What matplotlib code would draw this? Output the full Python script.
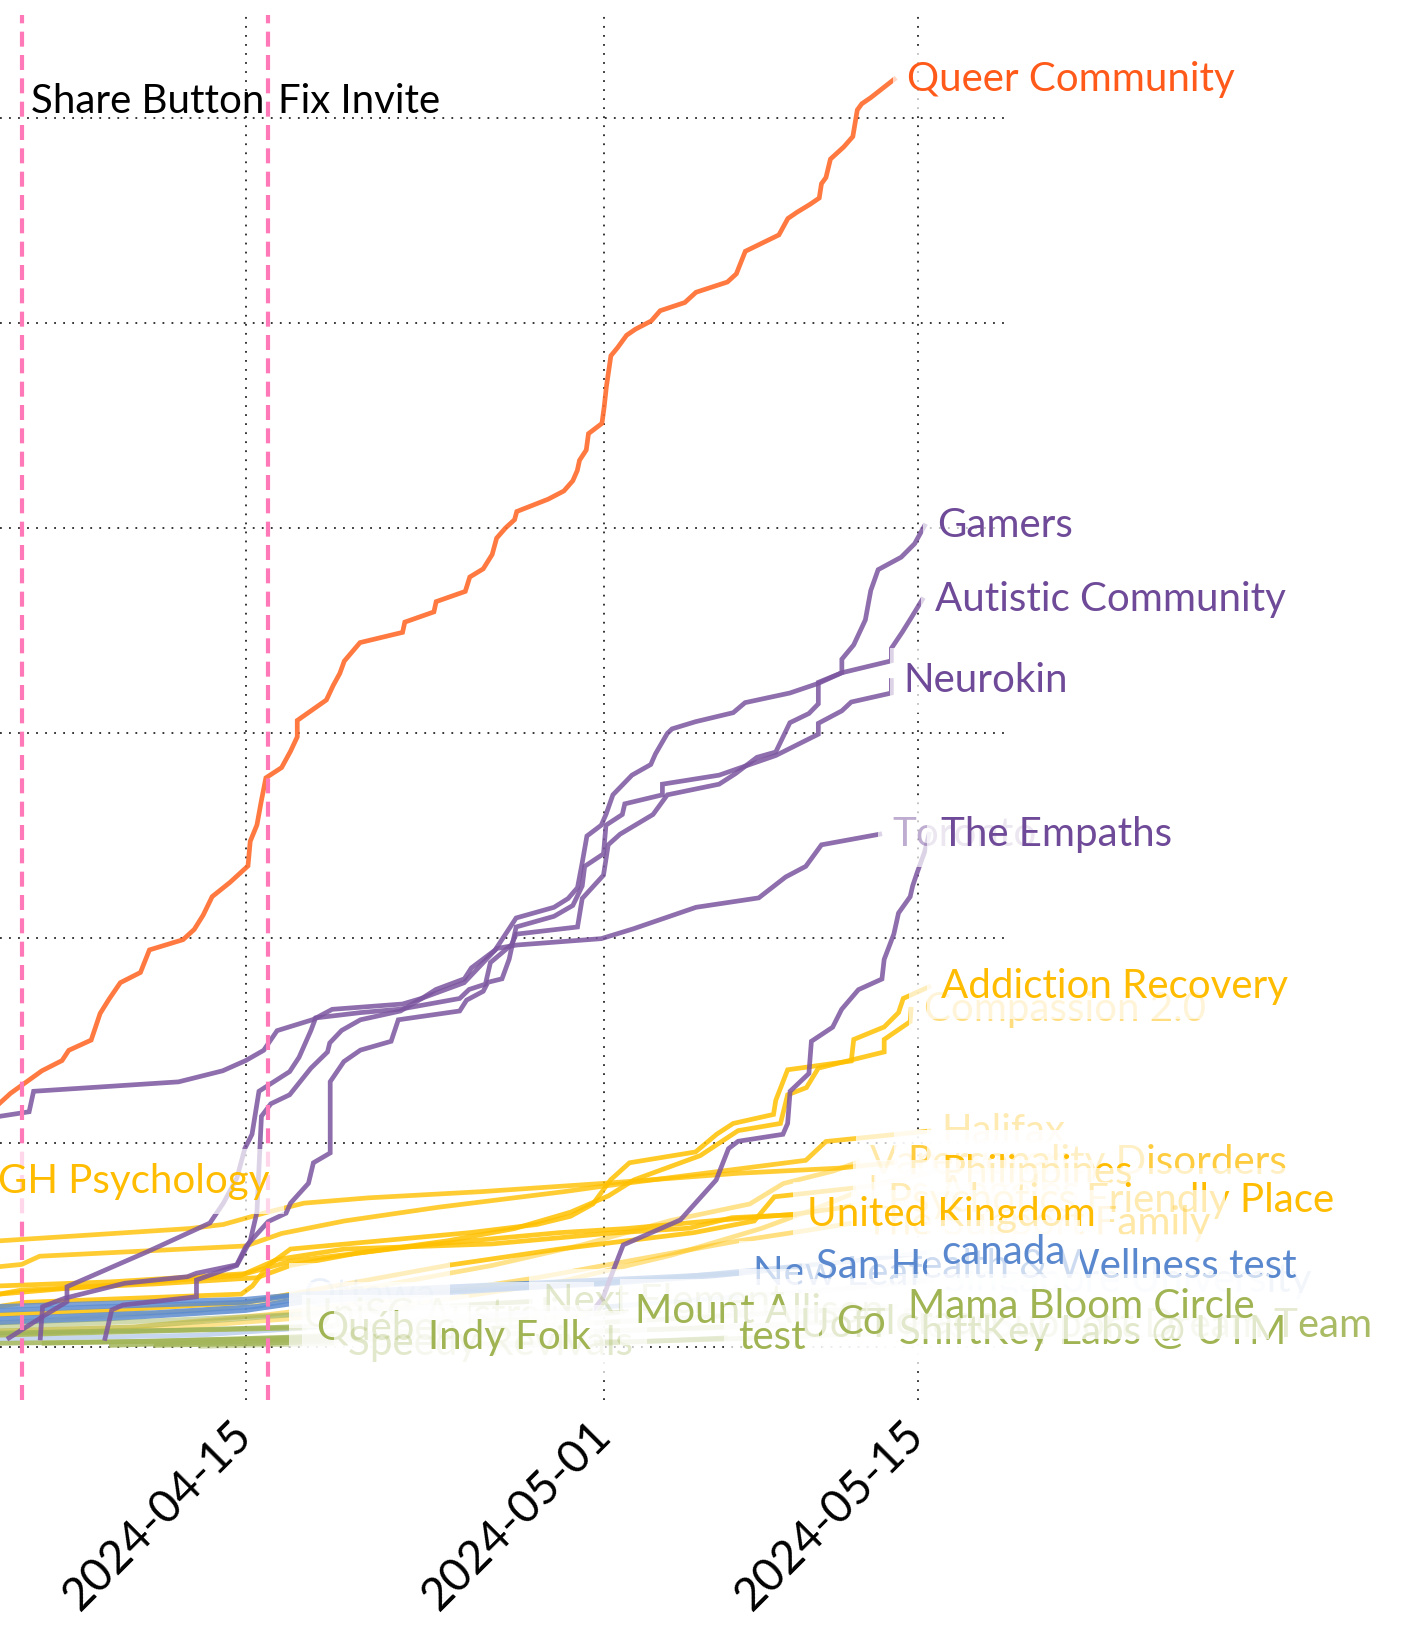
import pandas as pd
import matplotlib.pyplot as plt

plt.rcParams['font.family'] = ['Lato', 'DejaVu Sans']

START = pd.Timestamp("2024-04-01")

# points are (days since 2024-04-01, cumulative members)
queer_community = [(3.0, 119), (3.5, 124), (4.9, 135), (5.8, 140), (6.1, 145), (7.1, 150), (7.5, 163),
                   (7.9, 170), (8.4, 178), (9.3, 183), (9.7, 194), (11.2, 199), (11.7, 204), (12.1, 211),
                   (12.5, 220), (13.3, 227), (14.1, 235), (14.2, 247), (14.5, 255), (14.7, 267), (14.9, 278),
                   (15.6, 283), (16.0, 291), (16.3, 298), (16.3, 306), (17.6, 316), (17.9, 323), (18.2, 329),
                   (18.4, 335), (19.1, 344), (21.0, 349), (21.1, 354), (22.4, 359), (22.5, 364), (23.8, 369),
                   (24.0, 376), (24.6, 380), (25.0, 387), (25.2, 395), (25.6, 400), (26.0, 404), (26.1, 408),
                   (27.5, 414), (28.2, 418), (28.6, 423), (28.8, 428), (28.9, 433), (29.2, 438), (29.3, 446),
                   (29.9, 451), (30.0, 459), (30.1, 469), (30.3, 484), (30.6, 488), (31.0, 494), (31.4, 497),
                   (32.1, 501), (32.5, 506), (33.6, 510), (34.1, 515), (35.5, 520), (35.9, 524), (36.3, 535),
                   (37.8, 543), (38.2, 551), (38.6, 554), (39.2, 558), (39.6, 561), (39.7, 568), (39.9, 571),
                   (40.1, 580), (40.7, 586), (41.1, 591), (41.3, 604), (41.5, 607), (41.9, 610), (42.95, 619)]

gamers = [(3.43, 4.6), (4.93, 15), (6.02, 22.3), (6.02, 29.6), (8.41, 41), (9.61, 46.7), (12.4, 60.7),
          (13.0, 70.4), (13.6, 82.5), (13.96, 97.1), (14.28, 104), (14.59, 125), (15.96, 134.6),
          (16.38, 141.6), (16.91, 154.7), (17.12, 160.8), (19.12, 163.4), (20.91, 165.1), (23.55, 170.3),
          (23.97, 174.7), (24.7, 177.3), (24.92, 187.8), (25.86, 196.5), (26.07, 201.7), (28.81, 205.2),
          (29.02, 219.1), (29.97, 230.5), (30.18, 245.3), (30.71, 250.5), (32.18, 260.1), (32.82, 269.7),
          (35.13, 274.9), (35.87, 280.1), (36.82, 288), (37.66, 290.6), (38.29, 304.9), (39.14, 309.4),
          (39.56, 314.1), (39.56, 324.6), (40.61, 329.3), (40.61, 335.9), (41.14, 342.9), (41.66, 355.1),
          (41.9, 369.4), (42.23, 379.6), (43.26, 385.7), (43.86, 392.3), (44.3, 401)]

autistic_community = [(7.72, 4.4), (8.02, 18.3), (8.52, 20.7), (11.8, 24.7), (11.8, 32.9), (13.6, 40),
                      (14.2, 52), (14.5, 66), (14.6, 90), (14.7, 112.8), (15.12, 118.9), (15.96, 123.3),
                      (16.91, 136.3), (17.65, 144.2), (17.75, 148.6), (18.28, 154.7), (19.12, 159.9),
                      (20.91, 164.2), (21.86, 170.3), (22.49, 174.7), (23.76, 179.9), (24.07, 185.2),
                      (25.13, 193.9), (26.07, 209.6), (27.76, 214.8), (28.39, 219.1), (28.81, 224.4),
                      (29.02, 236.6), (29.23, 249.6), (29.87, 254.9), (30.08, 260.1), (30.39, 269.7),
                      (31.24, 279.3), (32.08, 284.5), (32.29, 289.7), (32.82, 299.7), (33.03, 301.9),
                      (34.08, 305.4), (35.76, 309.8), (36.29, 314.7), (38.29, 319.4), (39.56, 324.1),
                      (40.61, 329.3), (42.82, 335.1), (42.82, 341.2), (43.3, 349), (43.7, 356), (44.2, 365)]

neurokin = [(4.83, 4.6), (4.93, 19.9), (5.92, 24), (8.6, 31.3), (11.4, 34.5), (11.8, 36.2), (13.6, 40.3),
            (14.0, 49.2), (15.0, 61.4), (15.8, 65.5), (16.0, 70.4), (16.8, 80.1), (17.02, 90.1),
            (17.77, 94.9), (17.77, 129.7), (18.38, 139.5), (19.12, 145.1), (20.49, 149.4), (20.81, 159.9),
            (23.55, 164.2), (23.86, 169.5), (24.6, 173.8), (24.81, 178.2), (25.44, 179.9), (25.76, 189.5),
            (26.07, 205.2), (27.76, 210.4), (28.6, 215.7), (29.02, 225.2), (29.13, 234.8), (29.97, 240.9),
            (30.08, 254.9), (30.81, 260.1), (30.92, 265.3), (32.6, 269.7), (32.6, 274.9), (35.13, 279.3),
            (37.66, 288.9), (39.56, 299.3), (39.56, 304.6), (40.61, 310.7), (41.03, 315), (42.82, 319.4),
            (42.82, 325.5)]

toronto = [(3.03, 112.8), (4.33, 115), (4.53, 125), (11.0, 129.6), (12.97, 135), (14.0, 140), (14.8, 145),
           (15.4, 154.6), (17.0, 160), (17.86, 165), (21.0, 167.6), (21.86, 170.4), (23.75, 178),
           (25.2, 194.7), (26.1, 196.4), (29.87, 199.5), (31.3, 204.3), (34.1, 214.8), (36.9, 219.4),
           (38.1, 229.6), (39.0, 234.8), (39.7, 245.3), (42.3, 250.5)]

the_empaths = [(29.2, 13.8), (29.96, 24.5), (30.27, 33.7), (30.85, 50), (33.4, 62.2), (35.0, 81.7),
               (35.55, 97), (35.98, 100.6), (37.98, 104), (38.19, 109.3), (38.3, 125), (39.14, 133.7),
               (39.25, 149.4), (40.2, 156.3), (40.6, 165), (41.35, 174.6), (42.4, 179.8), (42.5, 189.4),
               (42.93, 201.7), (43.14, 212), (43.66, 220), (43.77, 225.2), (43.98, 232), (44.3, 241.7),
               (44.5, 250.5)]

addiction_recovery = [(3.0, 20), (4.2, 22), (9.0, 24), (13.8, 26), (14.3, 30), (15.0, 40), (16.0, 48),
                      (20.0, 52), (24.0, 56), (27.0, 60), (28.5, 64), (29.5, 70), (30.29, 81.8),
                      (31.13, 90.1), (34.08, 95.4), (35.03, 104.1), (35.76, 109.3), (37.56, 113.7),
                      (37.66, 120.6), (38.19, 135.5), (41.03, 139.8), (41.14, 150.3), (42.5, 156.4),
                      (43.14, 163.4), (43.35, 170.3), (44.5, 176)]
compassion_2 = [(3.0, 26), (4.0, 28), (10.0, 31), (14.5, 34), (16.0, 40), (19.0, 46), (23.0, 52),
                (26.0, 58), (28.5, 66), (30.2, 74), (31.34, 81.8), (34.29, 93.6), (35.98, 105.8),
                (37.87, 109.3), (38.19, 123.3), (39.03, 126.8), (39.56, 136.3), (42.5, 144.2),
                (42.5, 150.3), (43.66, 159), (43.7, 165)]
halifax = [(3.0, 39.4), (4.0, 40.5), (4.8, 44.5), (14.0, 49.5), (15.6, 55.6), (18.4, 61.7), (22.6, 68.4),
           (28.2, 76), (29.9, 78.6), (39.0, 91.3), (39.9, 100.5), (44.5, 105.6)]
vancouver = [(3.0, 12), (6.0, 14), (12.0, 18), (16.0, 24), (20.0, 30), (25.0, 40), (29.0, 50), (33.0, 62),
             (36.5, 70), (38.0, 80), (40.2, 86), (41.3, 90.3)]
personality_disorders = [(3.0, 52), (11.5, 58), (13.0, 60), (14.9, 65.8), (16.6, 70.4), (19.5, 73),
                         (24.5, 76), (29.9, 80), (36.0, 85), (40.5, 87.5), (43.0, 90.3)]
philippines = [(3.0, 16), (8.0, 18), (14.0, 22), (18.0, 30), (23.0, 40), (28.0, 48), (31.0, 52),
               (34.0, 56), (36.7, 61.7), (37.6, 73.5), (41.8, 78.6), (44.5, 85.2)]
los_angeles = [(3.0, 6), (10.0, 9), (16.0, 14), (22.0, 22), (28.0, 32), (33.0, 45), (37.0, 58),
               (39.5, 68), (41.2, 75.5)]
friendly_place = [(3.0, 30), (8.0, 32), (14.0, 36), (16.0, 42), (22.0, 50), (28.0, 56), (31.0, 58),
                  (35.0, 62), (38.5, 65), (40.5, 68), (42.1, 71.5)]
united_kingdom = [(3.0, 26), (5.8, 28.6), (13.8, 35.2), (15.4, 42.9), (18.4, 48), (25.0, 50.5),
                  (30.1, 55.6), (33.8, 58.2), (35.7, 63.3), (38.5, 64.8)]
support_family = [(3.0, 8), (9.0, 10), (15.0, 16), (21.0, 24), (27.0, 34), (32.0, 44), (36.0, 52),
                  (39.0, 57), (41.1, 60.7)]
gh_psychology = [(-1.0, 70), (1.0, 76), (2.4, 81)]

canada = [(3.0, 12), (8.0, 14), (14.0, 18), (16.5, 22), (22.0, 26), (28.0, 30), (33.0, 34), (37.0, 38),
          (41.0, 42), (44.5, 46.4)]
san_health = [(3.0, 14), (10.0, 17), (14.5, 20), (16.5, 24), (24.0, 28), (30.0, 31), (35.0, 35), (38.9, 39.3)]
new_leaf = [(3.0, 18), (8.0, 20), (14.0, 22), (16.5, 26), (22.0, 29), (28.0, 32), (32.0, 34), (36.1, 36.2)]
singapore_university = [(3.0, 4), (12.0, 6), (20.0, 12), (28.0, 18), (35.0, 24), (40.0, 28), (44.6, 32.7)]
ottawa = [(3.0, 20), (9.0, 22), (14.0, 23.5), (16.0, 25.5)]

mama_bloom_circle = [(3.0, 2), (10.0, 3), (16.0, 5), (22.0, 8), (28.0, 11), (33.0, 14), (38.0, 17), (43.0, 19.9)]
shiftkey_labs = [(20.0, 1), (26.0, 2), (32.0, 3), (38.0, 5), (42.6, 7.1)]
colorado = [(8.0, 1), (14.0, 3), (20.0, 5), (27.0, 7), (33.0, 9), (39.8, 12.2)]
uoft_team = [(5.0, 2), (14.0, 4), (22.0, 6), (30.0, 8), (38.2, 10.7)]
test = [(25.0, 1), (30.0, 2), (35.4, 4.6)]
mount_allison = [(3.0, 6), (10.0, 8), (16.0, 10), (22.0, 12), (27.0, 14), (30.8, 17.3)]
next_element = [(3.0, 10), (10.0, 13), (16.0, 16), (21.0, 19), (26.7, 22.4)]
quebec = [(3.0, 7), (8.0, 8), (12.0, 8.5), (16.6, 9.5)]
indy_folk = [(10.0, 1), (15.0, 2), (21.6, 4.6)]
unisc_australia = [(3.0, 8), (9.0, 10), (16.0, 15.8)]
speedy_revivals = [(12.0, 0.5), (18.0, 2)]

events = ["2024-04-05", "2024-04-16"]
event_labels = ["Share Button", "Fix Invite"]

xtick_dates = ["2024-04-15", "2024-05-01", "2024-05-15"]
ygrid = [0, 100, 200, 300, 400, 500, 600]

ORANGE, PURPLE, YELLOW, BLUE, GREEN = "#FF6B2B", "#7B559F", "#FFC000", "#5C8CD0", "#A3B65A"
TXT = {ORANGE: "#FF5A1A", PURPLE: "#6F4A98", YELLOW: "#FFBC00", BLUE: "#5A88CE", GREEN: "#A0B453"}

# label, points, colour, text alpha, line alpha (list order = stacking order of labels)
series = [
    ("GH Psychology", gh_psychology, YELLOW, 1.0, 0.85),
    ("Halifax", halifax, YELLOW, 0.3, 0.8),
    ("Vancouver", vancouver, YELLOW, 0.35, 0.45),
    ("Personality Disorders", personality_disorders, YELLOW, 0.75, 0.8),
    ("Philippines", philippines, YELLOW, 1.0, 0.85),
    ("Los Angeles", los_angeles, YELLOW, 0.35, 0.45),
    ("Psychotics Friendly Place", friendly_place, YELLOW, 1.0, 0.85),
    ("The Support Family", support_family, YELLOW, 0.35, 0.5),
    ("United Kingdom", united_kingdom, YELLOW, 1.0, 0.85),
    ("Compassion 2.0", compassion_2, YELLOW, 0.5, 0.85),
    ("Addiction Recovery", addiction_recovery, YELLOW, 1.0, 0.85),
    ("Ottawa", ottawa, BLUE, 0.12, 0.8),
    ("Singapore University", singapore_university, BLUE, 0.25, 0.35),
    ("New Leaf", new_leaf, BLUE, 1.0, 0.85),
    ("San Health & Wellness test", san_health, BLUE, 1.0, 0.85),
    ("canada", canada, BLUE, 1.0, 0.85),
    ("UniSC Australia", unisc_australia, GREEN, 0.25, 0.5),
    ("Next Element", next_element, GREEN, 0.3, 0.5),
    ("Québec", quebec, GREEN, 1.0, 0.85),
    ("Speedy Revivals", speedy_revivals, GREEN, 0.3, 0.5),
    ("Indy Folk", indy_folk, GREEN, 1.0, 0.85),
    ("Mount Allison", mount_allison, GREEN, 1.0, 0.85),
    ("UofT Peer Support Dream Team", uoft_team, GREEN, 0.9, 0.85),
    ("test", test, GREEN, 1.0, 0.85),
    ("Colorado", colorado, GREEN, 1.0, 0.85),
    ("ShiftKey Labs @ UTM", shiftkey_labs, GREEN, 1.0, 0.85),
    ("Mama Bloom Circle", mama_bloom_circle, GREEN, 1.0, 0.85),
    ("Toronto", toronto, PURPLE, 0.45, 0.85),
    ("The Empaths", the_empaths, PURPLE, 1.0, 0.85),
    ("Neurokin", neurokin, PURPLE, 1.0, 0.85),
    ("Autistic Community", autistic_community, PURPLE, 1.0, 0.85),
    ("Gamers", gamers, PURPLE, 1.0, 0.85),
    ("Queer Community", queer_community, ORANGE, 1.0, 0.9),
]


def to_dates(days):
    return START + pd.to_timedelta(days, unit="D")


fig = plt.figure(figsize=(14.05, 16.39), dpi=100)
ax = fig.add_axes([0.0, 0.1458, 0.7143, 0.845])

for spine in ax.spines.values():
    spine.set_visible(False)

for i, (name, pts, col, a, la) in enumerate(series):
    d = to_dates([p[0] for p in pts])
    v = [p[1] for p in pts]
    ax.plot(d, v, color=col, lw=3.4, alpha=la, zorder=2, solid_joinstyle="miter")
    ax.annotate(name, (d[-1], v[-1]), xytext=(9, 0), textcoords="offset points",
                va="center", ha="left", fontsize=29, color=TXT[col], alpha=a,
                annotation_clip=False, zorder=10 + i,
                bbox=dict(boxstyle="square,pad=0.35", fc="white", ec="none", alpha=0.7))

for ev, lab in zip(events, event_labels):
    ax.axvline(pd.Timestamp(ev), color="#FF79B9", lw=3.0, ls=(0, (3.6, 2.0)), zorder=3)
    ax.annotate(lab, (pd.Timestamp(ev), 608), xytext=(7, 0), textcoords="offset points",
                va="center", ha="left", fontsize=29, color="black", zorder=50)

ax.set_xlim(to_dates([3.03])[0], to_dates([47.83])[0])
ax.set_ylim(-25.7, 650.3)
ax.set_xticks(pd.to_datetime(xtick_dates))
ax.set_xticklabels(xtick_dates, rotation=45, ha="right", va="center", rotation_mode="anchor", fontsize=33)
ax.set_yticks(ygrid)
ax.set_yticklabels([])
ax.tick_params(length=0, pad=20)
ax.grid(True, color="black", ls=(0, (1, 4)), lw=1.3, alpha=0.85)
ax.set_axisbelow(True)

fig.savefig("out.png", dpi=100)
